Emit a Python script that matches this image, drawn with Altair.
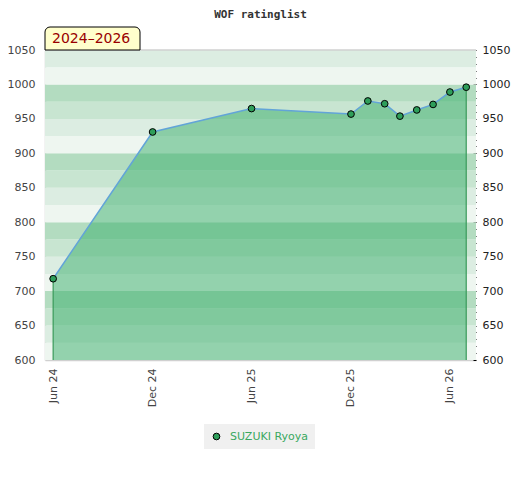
import altair as alt
import pandas as pd

# ---- data ----
player = "SUZUKI Ryoya"
dates = ["2024-06-01", "2024-12-01", "2025-06-01", "2025-12-01", "2026-01-01",
         "2026-02-01", "2026-03-01", "2026-04-01", "2026-05-01", "2026-06-01",
         "2026-07-01"]
ratings = [718, 931, 965, 957, 976, 972, 954, 963, 971, 989, 996]

tick_dates = ["2024-06-01", "2024-12-01", "2025-06-01", "2025-12-01", "2026-06-01"]
y_labels = list(range(600, 1051, 50))
y_minor = list(range(600, 1051, 10))
band_lows = list(range(600, 1050, 25))
band_palette = ["#eef6f0", "#dcede2", "#c8e5d1", "#b3dcc0"]  # position inside each hundred
title_text = "WOF ratinglist"
range_label = "2024\u20132026"

W, H = 431, 310

df = pd.DataFrame({"date": dates, "rating": ratings, "name": player})
ends = df.iloc[[0, -1]]
bands = pd.DataFrame({
    "lo": band_lows,
    "hi": [b + 25 for b in band_lows],
    "c": [band_palette[(b % 100) // 25] for b in band_lows],
})

def dt(s):
    y, m, d = map(int, s.split("-"))
    return alt.DateTime(year=y, month=m, date=d, utc=True)

yscale = alt.Scale(domain=[600, 1050], zero=False, nice=False)
xscale = alt.Scale(type="utc", domain=[dt("2024-05-17"), dt("2026-07-19")], nice=False)
xaxis = alt.Axis(values=[dt(t) for t in tick_dates], format="%b %y", labelAngle=270,
                 tickSize=0, labelPadding=8, domainColor="#d0d0d0", domainWidth=1.5,
                 grid=False, labelFont="DejaVu Sans", labelFontSize=11, labelColor="#444")
X = alt.X("date:T", scale=xscale, title=None, axis=xaxis)

band_layer = alt.Chart(bands).mark_rect().encode(
    x=alt.value(0), x2=alt.value(W),
    y=alt.Y("lo:Q", scale=yscale, title=None,
            axis=alt.Axis(orient="left", values=y_labels, format="d", tickSize=0, labelPadding=10,
                          domainColor="#d0d0d0", domainWidth=1.5, grid=False,
                          labelFont="DejaVu Sans", labelFontSize=11, labelColor="#444")),
    y2="hi:Q",
    color=alt.Color("c:N", scale=None),
)

top_line = alt.Chart(alt.Data(values=[{"v": 1050}])).mark_rule(color="#d0d0d0", strokeWidth=1.5).encode(
    y=alt.Y("v:Q", scale=yscale, axis=None), x=alt.value(0), x2=alt.value(W)
)

area = alt.Chart(df).mark_area(color="#37ae6a", opacity=0.5).encode(
    x=X,
    y=alt.Y("rating:Q", scale=yscale, title=None,
            axis=alt.Axis(orient="right", values=y_minor, format="d", offset=-3, tickSize=3,
                          tickColor="#000", domain=False, grid=False, labelPadding=6,
                          labelExpr="datum.value % 50 == 0 ? datum.label : ''",
                          labelFont="DejaVu Sans", labelFontSize=11, labelColor="#222")),
    y2=alt.datum(600),
)

edges = alt.Chart(ends).mark_rule(color="#3a9a5a", strokeWidth=1.2).encode(
    x=X,
    y=alt.Y("rating:Q", scale=yscale, axis=None),
    y2=alt.datum(600),
)

line = alt.Chart(df).mark_line(color="#62a4d8", strokeWidth=1.5).encode(
    x=X,
    y=alt.Y("rating:Q", scale=yscale, axis=None),
)

points = alt.Chart(df).mark_point(filled=True, size=45, stroke="#000", strokeWidth=1, opacity=1).encode(
    x=X,
    y=alt.Y("rating:Q", scale=yscale, axis=None),
    fill=alt.Fill("name:N", scale=alt.Scale(range=["#2e9e5a"]),
                  legend=alt.Legend(title=None, orient="none", legendX=159, legendY=374,
                                    fillColor="#f0f0f0", padding=7, labelColor="#3aa860",
                                    labelFont="DejaVu Sans", labelFontSize=11, symbolType="circle",
                                    symbolSize=45, symbolStrokeColor="#000", symbolStrokeWidth=1,
                                    symbolFillColor="#2e9e5a", labelOffset=8)),
)

box = alt.Chart(alt.Data(values=[{}])).mark_rect(
    fill="#ffffcc", stroke="#000", strokeWidth=1, cornerRadiusTopLeft=5, cornerRadiusTopRight=5
).encode(x=alt.value(0), x2=alt.value(95), y=alt.value(-23), y2=alt.value(0))

box_text = alt.Chart(alt.Data(values=[{}])).mark_text(
    text=range_label, color="#990000", font="DejaVu Sans", fontSize=14, align="left", baseline="middle"
).encode(x=alt.value(7), y=alt.value(-11))

chart = alt.layer(band_layer, top_line, area, edges, line, points, box, box_text).resolve_axis(
    y="independent"
).properties(
    width=W, height=H,
    title=alt.TitleParams(title_text, font="DejaVu Sans Mono", fontSize=11, fontWeight="bold",
                          color="#333", anchor="middle", offset=7),
    autosize=alt.AutoSizeParams(type="none"),
    padding={"left": 37, "top": 42, "right": 36, "bottom": 110},
).configure_view(stroke=None)

chart.save("out.html", embed_options={"renderer": "svg", "actions": False})
